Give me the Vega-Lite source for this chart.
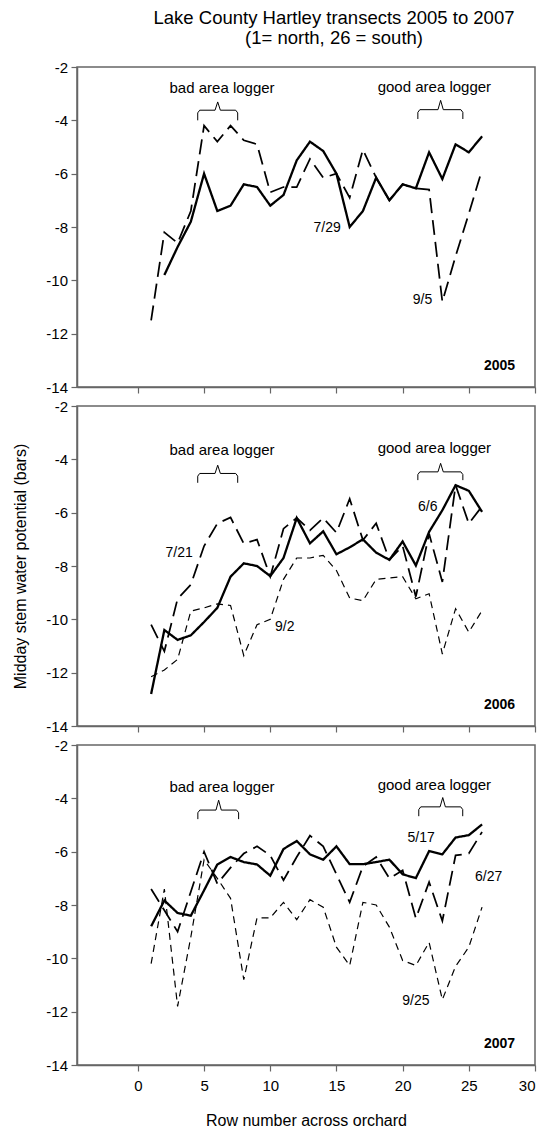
{
  "$schema": "https://vega.github.io/schema/vega-lite/v6.json",
  "padding": {"left": 12, "top": 8, "right": 3, "bottom": 2},
  "autosize": {"type": "pad"},
  "background": "white",
  "config": {
    "font": "Liberation Sans",
    "view": {"stroke": "#666666", "strokeWidth": 1.5},
    "axis": {"domainColor": "#666666", "domainWidth": 1.5, "tickColor": "#666666", "tickWidth": 1.2, "tickSize": 6, "labelFont": "Liberation Sans", "labelFontSize": 15, "labelColor": "#000000", "titleFont": "Liberation Sans", "titleFontSize": 16, "titleFontWeight": "normal", "titleColor": "#000000", "grid": false}
  },
  "title": {"text": ["Lake County Hartley transects 2005 to 2007", "(1= north, 26 = south)"], "fontSize": 18.5, "fontWeight": "normal", "font": "Liberation Sans", "color": "#000000", "lineHeight": 20, "anchor": "middle", "frame": "group", "offset": 12, "dx": 28},
  "datasets": {
    "lines": [
      {"year":2005,"series":"7/29","style":"solid","row":2,"psi":-9.8},
      {"year":2005,"series":"7/29","style":"solid","row":3,"psi":-8.75},
      {"year":2005,"series":"7/29","style":"solid","row":4,"psi":-7.8},
      {"year":2005,"series":"7/29","style":"solid","row":5,"psi":-6.0},
      {"year":2005,"series":"7/29","style":"solid","row":6,"psi":-7.4},
      {"year":2005,"series":"7/29","style":"solid","row":7,"psi":-7.2},
      {"year":2005,"series":"7/29","style":"solid","row":8,"psi":-6.4},
      {"year":2005,"series":"7/29","style":"solid","row":9,"psi":-6.5},
      {"year":2005,"series":"7/29","style":"solid","row":10,"psi":-7.2},
      {"year":2005,"series":"7/29","style":"solid","row":11,"psi":-6.8},
      {"year":2005,"series":"7/29","style":"solid","row":12,"psi":-5.5},
      {"year":2005,"series":"7/29","style":"solid","row":13,"psi":-4.8},
      {"year":2005,"series":"7/29","style":"solid","row":14,"psi":-5.15},
      {"year":2005,"series":"7/29","style":"solid","row":15,"psi":-6.0},
      {"year":2005,"series":"7/29","style":"solid","row":16,"psi":-8.0},
      {"year":2005,"series":"7/29","style":"solid","row":17,"psi":-7.4},
      {"year":2005,"series":"7/29","style":"solid","row":18,"psi":-6.15},
      {"year":2005,"series":"7/29","style":"solid","row":19,"psi":-7.0},
      {"year":2005,"series":"7/29","style":"solid","row":20,"psi":-6.4},
      {"year":2005,"series":"7/29","style":"solid","row":21,"psi":-6.55},
      {"year":2005,"series":"7/29","style":"solid","row":22,"psi":-5.2},
      {"year":2005,"series":"7/29","style":"solid","row":23,"psi":-6.2},
      {"year":2005,"series":"7/29","style":"solid","row":24,"psi":-4.9},
      {"year":2005,"series":"7/29","style":"solid","row":25,"psi":-5.2},
      {"year":2005,"series":"7/29","style":"solid","row":26,"psi":-4.6},
      {"year":2005,"series":"9/5","style":"long","row":1,"psi":-11.5},
      {"year":2005,"series":"9/5","style":"long","row":2,"psi":-8.2},
      {"year":2005,"series":"9/5","style":"long","row":3,"psi":-8.6},
      {"year":2005,"series":"9/5","style":"long","row":4,"psi":-7.4},
      {"year":2005,"series":"9/5","style":"long","row":5,"psi":-4.2},
      {"year":2005,"series":"9/5","style":"long","row":6,"psi":-4.8},
      {"year":2005,"series":"9/5","style":"long","row":7,"psi":-4.2},
      {"year":2005,"series":"9/5","style":"long","row":8,"psi":-4.75},
      {"year":2005,"series":"9/5","style":"long","row":9,"psi":-4.9},
      {"year":2005,"series":"9/5","style":"long","row":10,"psi":-6.7},
      {"year":2005,"series":"9/5","style":"long","row":11,"psi":-6.5},
      {"year":2005,"series":"9/5","style":"long","row":12,"psi":-6.5},
      {"year":2005,"series":"9/5","style":"long","row":13,"psi":-5.45},
      {"year":2005,"series":"9/5","style":"long","row":14,"psi":-6.15},
      {"year":2005,"series":"9/5","style":"long","row":15,"psi":-6.0},
      {"year":2005,"series":"9/5","style":"long","row":16,"psi":-6.9},
      {"year":2005,"series":"9/5","style":"long","row":17,"psi":-5.1},
      {"year":2005,"series":"9/5","style":"long","row":18,"psi":-6.15},
      {"year":2005,"series":"9/5","style":"long","row":19,"psi":-7.0},
      {"year":2005,"series":"9/5","style":"long","row":20,"psi":-6.4},
      {"year":2005,"series":"9/5","style":"long","row":21,"psi":-6.55},
      {"year":2005,"series":"9/5","style":"long","row":22,"psi":-6.6},
      {"year":2005,"series":"9/5","style":"long","row":23,"psi":-10.8},
      {"year":2005,"series":"9/5","style":"long","row":24,"psi":-9.1},
      {"year":2005,"series":"9/5","style":"long","row":25,"psi":-7.5},
      {"year":2005,"series":"9/5","style":"long","row":26,"psi":-5.85},

      {"year":2006,"series":"6/6","style":"solid","row":1,"psi":-12.8},
      {"year":2006,"series":"6/6","style":"solid","row":2,"psi":-10.4},
      {"year":2006,"series":"6/6","style":"solid","row":3,"psi":-10.77},
      {"year":2006,"series":"6/6","style":"solid","row":4,"psi":-10.6},
      {"year":2006,"series":"6/6","style":"solid","row":5,"psi":-10.1},
      {"year":2006,"series":"6/6","style":"solid","row":6,"psi":-9.57},
      {"year":2006,"series":"6/6","style":"solid","row":7,"psi":-8.4},
      {"year":2006,"series":"6/6","style":"solid","row":8,"psi":-7.9},
      {"year":2006,"series":"6/6","style":"solid","row":9,"psi":-8.0},
      {"year":2006,"series":"6/6","style":"solid","row":10,"psi":-8.38},
      {"year":2006,"series":"6/6","style":"solid","row":11,"psi":-7.7},
      {"year":2006,"series":"6/6","style":"solid","row":12,"psi":-6.2},
      {"year":2006,"series":"6/6","style":"solid","row":13,"psi":-7.15},
      {"year":2006,"series":"6/6","style":"solid","row":14,"psi":-6.7},
      {"year":2006,"series":"6/6","style":"solid","row":15,"psi":-7.56},
      {"year":2006,"series":"6/6","style":"solid","row":16,"psi":-7.3},
      {"year":2006,"series":"6/6","style":"solid","row":17,"psi":-7.0},
      {"year":2006,"series":"6/6","style":"solid","row":18,"psi":-7.5},
      {"year":2006,"series":"6/6","style":"solid","row":19,"psi":-7.77},
      {"year":2006,"series":"6/6","style":"solid","row":20,"psi":-7.08},
      {"year":2006,"series":"6/6","style":"solid","row":21,"psi":-7.98},
      {"year":2006,"series":"6/6","style":"solid","row":22,"psi":-6.72},
      {"year":2006,"series":"6/6","style":"solid","row":23,"psi":-5.91},
      {"year":2006,"series":"6/6","style":"solid","row":24,"psi":-4.97},
      {"year":2006,"series":"6/6","style":"solid","row":25,"psi":-5.18},
      {"year":2006,"series":"6/6","style":"solid","row":26,"psi":-5.97},
      {"year":2006,"series":"7/21","style":"long","row":1,"psi":-10.2},
      {"year":2006,"series":"7/21","style":"long","row":2,"psi":-11.2},
      {"year":2006,"series":"7/21","style":"long","row":3,"psi":-9.23},
      {"year":2006,"series":"7/21","style":"long","row":4,"psi":-8.7},
      {"year":2006,"series":"7/21","style":"long","row":5,"psi":-7.25},
      {"year":2006,"series":"7/21","style":"long","row":6,"psi":-6.41},
      {"year":2006,"series":"7/21","style":"long","row":7,"psi":-6.18},
      {"year":2006,"series":"7/21","style":"long","row":8,"psi":-7.16},
      {"year":2006,"series":"7/21","style":"long","row":9,"psi":-7.01},
      {"year":2006,"series":"7/21","style":"long","row":10,"psi":-8.4},
      {"year":2006,"series":"7/21","style":"long","row":11,"psi":-6.6},
      {"year":2006,"series":"7/21","style":"long","row":12,"psi":-6.2},
      {"year":2006,"series":"7/21","style":"long","row":13,"psi":-6.66},
      {"year":2006,"series":"7/21","style":"long","row":14,"psi":-6.2},
      {"year":2006,"series":"7/21","style":"long","row":15,"psi":-6.75},
      {"year":2006,"series":"7/21","style":"long","row":16,"psi":-5.48},
      {"year":2006,"series":"7/21","style":"long","row":17,"psi":-7.03},
      {"year":2006,"series":"7/21","style":"long","row":18,"psi":-6.4},
      {"year":2006,"series":"7/21","style":"long","row":19,"psi":-7.77},
      {"year":2006,"series":"7/21","style":"long","row":20,"psi":-7.25},
      {"year":2006,"series":"7/21","style":"long","row":21,"psi":-9.15},
      {"year":2006,"series":"7/21","style":"long","row":22,"psi":-6.79},
      {"year":2006,"series":"7/21","style":"long","row":23,"psi":-8.6},
      {"year":2006,"series":"7/21","style":"long","row":24,"psi":-4.97},
      {"year":2006,"series":"7/21","style":"long","row":25,"psi":-6.41},
      {"year":2006,"series":"7/21","style":"long","row":26,"psi":-5.76},
      {"year":2006,"series":"9/2","style":"short","row":1,"psi":-12.15},
      {"year":2006,"series":"9/2","style":"short","row":2,"psi":-11.9},
      {"year":2006,"series":"9/2","style":"short","row":3,"psi":-11.5},
      {"year":2006,"series":"9/2","style":"short","row":4,"psi":-9.69},
      {"year":2006,"series":"9/2","style":"short","row":5,"psi":-9.57},
      {"year":2006,"series":"9/2","style":"short","row":6,"psi":-9.42},
      {"year":2006,"series":"9/2","style":"short","row":7,"psi":-9.48},
      {"year":2006,"series":"9/2","style":"short","row":8,"psi":-11.36},
      {"year":2006,"series":"9/2","style":"short","row":9,"psi":-10.2},
      {"year":2006,"series":"9/2","style":"short","row":10,"psi":-10.0},
      {"year":2006,"series":"9/2","style":"short","row":11,"psi":-8.5},
      {"year":2006,"series":"9/2","style":"short","row":12,"psi":-7.7},
      {"year":2006,"series":"9/2","style":"short","row":13,"psi":-7.7},
      {"year":2006,"series":"9/2","style":"short","row":14,"psi":-7.6},
      {"year":2006,"series":"9/2","style":"short","row":15,"psi":-8.17},
      {"year":2006,"series":"9/2","style":"short","row":16,"psi":-9.2},
      {"year":2006,"series":"9/2","style":"short","row":17,"psi":-9.3},
      {"year":2006,"series":"9/2","style":"short","row":18,"psi":-8.5},
      {"year":2006,"series":"9/2","style":"short","row":19,"psi":-8.45},
      {"year":2006,"series":"9/2","style":"short","row":20,"psi":-8.4},
      {"year":2006,"series":"9/2","style":"short","row":21,"psi":-9.23},
      {"year":2006,"series":"9/2","style":"short","row":22,"psi":-9.04},
      {"year":2006,"series":"9/2","style":"short","row":23,"psi":-11.3},
      {"year":2006,"series":"9/2","style":"short","row":24,"psi":-9.6},
      {"year":2006,"series":"9/2","style":"short","row":25,"psi":-10.48},
      {"year":2006,"series":"9/2","style":"short","row":26,"psi":-9.67},

      {"year":2007,"series":"5/17","style":"solid","row":1,"psi":-8.8},
      {"year":2007,"series":"5/17","style":"solid","row":2,"psi":-7.83},
      {"year":2007,"series":"5/17","style":"solid","row":3,"psi":-8.3},
      {"year":2007,"series":"5/17","style":"solid","row":4,"psi":-8.4},
      {"year":2007,"series":"5/17","style":"solid","row":5,"psi":-7.45},
      {"year":2007,"series":"5/17","style":"solid","row":6,"psi":-6.48},
      {"year":2007,"series":"5/17","style":"solid","row":7,"psi":-6.2},
      {"year":2007,"series":"5/17","style":"solid","row":8,"psi":-6.39},
      {"year":2007,"series":"5/17","style":"solid","row":9,"psi":-6.48},
      {"year":2007,"series":"5/17","style":"solid","row":10,"psi":-6.9},
      {"year":2007,"series":"5/17","style":"solid","row":11,"psi":-5.9},
      {"year":2007,"series":"5/17","style":"solid","row":12,"psi":-5.6},
      {"year":2007,"series":"5/17","style":"solid","row":13,"psi":-6.1},
      {"year":2007,"series":"5/17","style":"solid","row":14,"psi":-6.3},
      {"year":2007,"series":"5/17","style":"solid","row":15,"psi":-5.8},
      {"year":2007,"series":"5/17","style":"solid","row":16,"psi":-6.47},
      {"year":2007,"series":"5/17","style":"solid","row":17,"psi":-6.47},
      {"year":2007,"series":"5/17","style":"solid","row":18,"psi":-6.39},
      {"year":2007,"series":"5/17","style":"solid","row":19,"psi":-6.3},
      {"year":2007,"series":"5/17","style":"solid","row":20,"psi":-6.85},
      {"year":2007,"series":"5/17","style":"solid","row":21,"psi":-6.99},
      {"year":2007,"series":"5/17","style":"solid","row":22,"psi":-5.98},
      {"year":2007,"series":"5/17","style":"solid","row":23,"psi":-6.1},
      {"year":2007,"series":"5/17","style":"solid","row":24,"psi":-5.47},
      {"year":2007,"series":"5/17","style":"solid","row":25,"psi":-5.38},
      {"year":2007,"series":"5/17","style":"solid","row":26,"psi":-4.98},
      {"year":2007,"series":"6/27","style":"long","row":1,"psi":-7.4},
      {"year":2007,"series":"6/27","style":"long","row":2,"psi":-8.2},
      {"year":2007,"series":"6/27","style":"long","row":3,"psi":-9.0},
      {"year":2007,"series":"6/27","style":"long","row":4,"psi":-7.5},
      {"year":2007,"series":"6/27","style":"long","row":5,"psi":-6.0},
      {"year":2007,"series":"6/27","style":"long","row":6,"psi":-7.2},
      {"year":2007,"series":"6/27","style":"long","row":7,"psi":-6.6},
      {"year":2007,"series":"6/27","style":"long","row":8,"psi":-6.07},
      {"year":2007,"series":"6/27","style":"long","row":9,"psi":-5.8},
      {"year":2007,"series":"6/27","style":"long","row":10,"psi":-6.14},
      {"year":2007,"series":"6/27","style":"long","row":11,"psi":-7.07},
      {"year":2007,"series":"6/27","style":"long","row":12,"psi":-6.2},
      {"year":2007,"series":"6/27","style":"long","row":13,"psi":-5.4},
      {"year":2007,"series":"6/27","style":"long","row":14,"psi":-5.8},
      {"year":2007,"series":"6/27","style":"long","row":15,"psi":-6.85},
      {"year":2007,"series":"6/27","style":"long","row":16,"psi":-7.9},
      {"year":2007,"series":"6/27","style":"long","row":17,"psi":-6.55},
      {"year":2007,"series":"6/27","style":"long","row":18,"psi":-6.2},
      {"year":2007,"series":"6/27","style":"long","row":19,"psi":-7.0},
      {"year":2007,"series":"6/27","style":"long","row":20,"psi":-6.7},
      {"year":2007,"series":"6/27","style":"long","row":21,"psi":-8.5},
      {"year":2007,"series":"6/27","style":"long","row":22,"psi":-7.14},
      {"year":2007,"series":"6/27","style":"long","row":23,"psi":-8.6},
      {"year":2007,"series":"6/27","style":"long","row":24,"psi":-6.14},
      {"year":2007,"series":"6/27","style":"long","row":25,"psi":-6.07},
      {"year":2007,"series":"6/27","style":"long","row":26,"psi":-5.26},
      {"year":2007,"series":"9/25","style":"short","row":1,"psi":-10.2},
      {"year":2007,"series":"9/25","style":"short","row":2,"psi":-7.4},
      {"year":2007,"series":"9/25","style":"short","row":3,"psi":-11.8},
      {"year":2007,"series":"9/25","style":"short","row":4,"psi":-9.2},
      {"year":2007,"series":"9/25","style":"short","row":5,"psi":-6.3},
      {"year":2007,"series":"9/25","style":"short","row":6,"psi":-7.0},
      {"year":2007,"series":"9/25","style":"short","row":7,"psi":-7.75},
      {"year":2007,"series":"9/25","style":"short","row":8,"psi":-10.8},
      {"year":2007,"series":"9/25","style":"short","row":9,"psi":-8.48},
      {"year":2007,"series":"9/25","style":"short","row":10,"psi":-8.48},
      {"year":2007,"series":"9/25","style":"short","row":11,"psi":-7.9},
      {"year":2007,"series":"9/25","style":"short","row":12,"psi":-8.55},
      {"year":2007,"series":"9/25","style":"short","row":13,"psi":-7.8},
      {"year":2007,"series":"9/25","style":"short","row":14,"psi":-8.08},
      {"year":2007,"series":"9/25","style":"short","row":15,"psi":-9.58},
      {"year":2007,"series":"9/25","style":"short","row":16,"psi":-10.27},
      {"year":2007,"series":"9/25","style":"short","row":17,"psi":-7.9},
      {"year":2007,"series":"9/25","style":"short","row":18,"psi":-8.0},
      {"year":2007,"series":"9/25","style":"short","row":19,"psi":-8.83},
      {"year":2007,"series":"9/25","style":"short","row":20,"psi":-10.08},
      {"year":2007,"series":"9/25","style":"short","row":21,"psi":-10.27},
      {"year":2007,"series":"9/25","style":"short","row":22,"psi":-9.4},
      {"year":2007,"series":"9/25","style":"short","row":23,"psi":-11.55},
      {"year":2007,"series":"9/25","style":"short","row":24,"psi":-10.3},
      {"year":2007,"series":"9/25","style":"short","row":25,"psi":-9.58},
      {"year":2007,"series":"9/25","style":"short","row":26,"psi":-8.08}
    ],
    "notes": [
      {"year":2005,"kind":"date","text":"7/29","x":14.3,"y":-8.05},
      {"year":2005,"kind":"date","text":"9/5","x":21.5,"y":-10.75},
      {"year":2006,"kind":"date","text":"7/21","x":3.12,"y":-7.51},
      {"year":2006,"kind":"date","text":"9/2","x":11.1,"y":-10.3},
      {"year":2006,"kind":"date","text":"6/6","x":21.9,"y":-5.79},
      {"year":2007,"kind":"date","text":"5/17","x":21.4,"y":-5.47},
      {"year":2007,"kind":"date","text":"6/27","x":26.5,"y":-6.95},
      {"year":2007,"kind":"date","text":"9/25","x":21.0,"y":-11.59},
      {"year":2005,"kind":"logger","text":"bad area logger","x":6.36,"y":-2.77},
      {"year":2005,"kind":"logger","text":"good area logger","x":22.4,"y":-2.75},
      {"year":2006,"kind":"logger","text":"bad area logger","x":6.36,"y":-3.65},
      {"year":2006,"kind":"logger","text":"good area logger","x":22.4,"y":-3.58},
      {"year":2007,"kind":"logger","text":"bad area logger","x":6.35,"y":-3.59},
      {"year":2007,"kind":"logger","text":"good area logger","x":22.4,"y":-3.5},
      {"year":2005,"kind":"year","text":"2005","x":28.5,"y":-13.2},
      {"year":2006,"kind":"year","text":"2006","x":28.5,"y":-13.2},
      {"year":2007,"kind":"year","text":"2007","x":28.5,"y":-13.2}
    ],
    "braces": [
      {"year":2005,"id":"b","i":1,"x":4.52,"y":-4.0},{"year":2005,"id":"b","i":2,"x":4.52,"y":-3.72},{"year":2005,"id":"b","i":3,"x":4.67,"y":-3.62},{"year":2005,"id":"b","i":4,"x":5.83,"y":-3.62},{"year":2005,"id":"b","i":5,"x":6.03,"y":-3.31},{"year":2005,"id":"b","i":6,"x":6.23,"y":-3.62},{"year":2005,"id":"b","i":7,"x":7.39,"y":-3.62},{"year":2005,"id":"b","i":8,"x":7.54,"y":-3.72},{"year":2005,"id":"b","i":9,"x":7.54,"y":-4.0},
      {"year":2005,"id":"g","i":1,"x":21.15,"y":-3.95},{"year":2005,"id":"g","i":2,"x":21.15,"y":-3.7},{"year":2005,"id":"g","i":3,"x":21.3,"y":-3.6},{"year":2005,"id":"g","i":4,"x":22.67,"y":-3.6},{"year":2005,"id":"g","i":5,"x":22.87,"y":-3.25},{"year":2005,"id":"g","i":6,"x":23.07,"y":-3.6},{"year":2005,"id":"g","i":7,"x":24.4,"y":-3.6},{"year":2005,"id":"g","i":8,"x":24.55,"y":-3.7},{"year":2005,"id":"g","i":9,"x":24.55,"y":-3.95},
      {"year":2006,"id":"b","i":1,"x":4.52,"y":-4.88},{"year":2006,"id":"b","i":2,"x":4.52,"y":-4.63},{"year":2006,"id":"b","i":3,"x":4.67,"y":-4.53},{"year":2006,"id":"b","i":4,"x":5.83,"y":-4.53},{"year":2006,"id":"b","i":5,"x":6.03,"y":-4.22},{"year":2006,"id":"b","i":6,"x":6.23,"y":-4.53},{"year":2006,"id":"b","i":7,"x":7.39,"y":-4.53},{"year":2006,"id":"b","i":8,"x":7.54,"y":-4.63},{"year":2006,"id":"b","i":9,"x":7.54,"y":-4.88},
      {"year":2006,"id":"g","i":1,"x":21.15,"y":-4.78},{"year":2006,"id":"g","i":2,"x":21.15,"y":-4.57},{"year":2006,"id":"g","i":3,"x":21.3,"y":-4.47},{"year":2006,"id":"g","i":4,"x":22.67,"y":-4.47},{"year":2006,"id":"g","i":5,"x":22.87,"y":-4.15},{"year":2006,"id":"g","i":6,"x":23.07,"y":-4.47},{"year":2006,"id":"g","i":7,"x":24.4,"y":-4.47},{"year":2006,"id":"g","i":8,"x":24.55,"y":-4.57},{"year":2006,"id":"g","i":9,"x":24.55,"y":-4.78},
      {"year":2007,"id":"b","i":1,"x":4.53,"y":-4.78},{"year":2007,"id":"b","i":2,"x":4.53,"y":-4.54},{"year":2007,"id":"b","i":3,"x":4.68,"y":-4.44},{"year":2007,"id":"b","i":4,"x":5.9,"y":-4.44},{"year":2007,"id":"b","i":5,"x":6.1,"y":-4.07},{"year":2007,"id":"b","i":6,"x":6.3,"y":-4.44},{"year":2007,"id":"b","i":7,"x":7.46,"y":-4.44},{"year":2007,"id":"b","i":8,"x":7.61,"y":-4.54},{"year":2007,"id":"b","i":9,"x":7.61,"y":-4.78},
      {"year":2007,"id":"g","i":1,"x":21.22,"y":-4.67},{"year":2007,"id":"g","i":2,"x":21.22,"y":-4.42},{"year":2007,"id":"g","i":3,"x":21.37,"y":-4.32},{"year":2007,"id":"g","i":4,"x":22.83,"y":-4.32},{"year":2007,"id":"g","i":5,"x":23.03,"y":-3.97},{"year":2007,"id":"g","i":6,"x":23.23,"y":-4.32},{"year":2007,"id":"g","i":7,"x":24.39,"y":-4.32},{"year":2007,"id":"g","i":8,"x":24.54,"y":-4.42},{"year":2007,"id":"g","i":9,"x":24.54,"y":-4.67}
    ]
  },
  "spacing": 19,
  "bounds": "flush",
  "vconcat": [
    {
      "width": 458, "height": 320,
      "layer": [
        {"data": {"name": "lines"}, "transform": [{"filter": "datum.year == 2005"}],
         "mark": {"type": "line", "color": "#000000", "strokeCap": "butt"},
         "encoding": {
           "x": {"field": "row", "type": "quantitative", "scale": {"domain": [-4.6, 30], "nice": false, "zero": false}, "axis": {"values": [0,5,10,15,20,25,30], "labels": false, "title": null}},
           "y": {"field": "psi", "type": "quantitative", "scale": {"domain": [-14, -2], "nice": false, "zero": false}, "axis": {"values": [-14,-12,-10,-8,-6,-4,-2], "labelExpr": "'' + datum.value", "labelPadding": 3.5, "title": null}},
           "detail": {"field": "series"},
           "order": {"field": "row"},
           "strokeDash": {"field": "style", "type": "nominal", "scale": {"domain": ["solid","long","short"], "range": [[1,0],[15,7],[7,5]]}, "legend": null},
           "strokeWidth": {"field": "style", "type": "ordinal", "scale": {"domain": ["solid","long","short"], "range": [2.3,1.2,1.2]}, "legend": null}
         }},
        {"data": {"name": "braces"}, "transform": [{"filter": "datum.year == 2005"}],
         "mark": {"type": "line", "color": "#000000", "strokeWidth": 1},
         "encoding": {"x": {"field": "x", "type": "quantitative"}, "y": {"field": "y", "type": "quantitative"}, "detail": {"field": "id"}, "order": {"field": "i"}}},
        {"data": {"name": "notes"}, "transform": [{"filter": "datum.year == 2005 && datum.kind == 'date'"}],
         "mark": {"type": "text", "fontSize": 14, "align": "center", "baseline": "middle", "color": "#000000"},
         "encoding": {"x": {"field": "x", "type": "quantitative"}, "y": {"field": "y", "type": "quantitative"}, "text": {"field": "text"}}},
        {"data": {"name": "notes"}, "transform": [{"filter": "datum.year == 2005 && datum.kind == 'logger'"}],
         "mark": {"type": "text", "fontSize": 15, "align": "center", "baseline": "middle", "color": "#000000"},
         "encoding": {"x": {"field": "x", "type": "quantitative"}, "y": {"field": "y", "type": "quantitative"}, "text": {"field": "text"}}},
        {"data": {"name": "notes"}, "transform": [{"filter": "datum.year == 2005 && datum.kind == 'year'"}],
         "mark": {"type": "text", "fontSize": 14, "fontWeight": "bold", "align": "right", "baseline": "middle", "color": "#000000"},
         "encoding": {"x": {"field": "x", "type": "quantitative"}, "y": {"field": "y", "type": "quantitative"}, "text": {"field": "text"}}}
      ]
    },
    {
      "width": 458, "height": 320,
      "layer": [
        {"data": {"name": "lines"}, "transform": [{"filter": "datum.year == 2006"}],
         "mark": {"type": "line", "color": "#000000", "strokeCap": "butt"},
         "encoding": {
           "x": {"field": "row", "type": "quantitative", "scale": {"domain": [-4.6, 30], "nice": false, "zero": false}, "axis": {"values": [0,5,10,15,20,25,30], "labels": false, "title": null}},
           "y": {"field": "psi", "type": "quantitative", "scale": {"domain": [-14, -2], "nice": false, "zero": false}, "axis": {"values": [-14,-12,-10,-8,-6,-4,-2], "labelExpr": "'' + datum.value", "labelPadding": 3.5, "title": "Midday stem water potential (bars)", "titlePadding": 17}},
           "detail": {"field": "series"},
           "order": {"field": "row"},
           "strokeDash": {"field": "style", "type": "nominal", "scale": {"domain": ["solid","long","short"], "range": [[1,0],[13,7],[7,5]]}, "legend": null},
           "strokeWidth": {"field": "style", "type": "ordinal", "scale": {"domain": ["solid","long","short"], "range": [2.3,1.2,1.2]}, "legend": null}
         }},
        {"data": {"name": "braces"}, "transform": [{"filter": "datum.year == 2006"}],
         "mark": {"type": "line", "color": "#000000", "strokeWidth": 1},
         "encoding": {"x": {"field": "x", "type": "quantitative"}, "y": {"field": "y", "type": "quantitative"}, "detail": {"field": "id"}, "order": {"field": "i"}}},
        {"data": {"name": "notes"}, "transform": [{"filter": "datum.year == 2006 && datum.kind == 'date'"}],
         "mark": {"type": "text", "fontSize": 14, "align": "center", "baseline": "middle", "color": "#000000"},
         "encoding": {"x": {"field": "x", "type": "quantitative"}, "y": {"field": "y", "type": "quantitative"}, "text": {"field": "text"}}},
        {"data": {"name": "notes"}, "transform": [{"filter": "datum.year == 2006 && datum.kind == 'logger'"}],
         "mark": {"type": "text", "fontSize": 15, "align": "center", "baseline": "middle", "color": "#000000"},
         "encoding": {"x": {"field": "x", "type": "quantitative"}, "y": {"field": "y", "type": "quantitative"}, "text": {"field": "text"}}},
        {"data": {"name": "notes"}, "transform": [{"filter": "datum.year == 2006 && datum.kind == 'year'"}],
         "mark": {"type": "text", "fontSize": 14, "fontWeight": "bold", "align": "right", "baseline": "middle", "color": "#000000"},
         "encoding": {"x": {"field": "x", "type": "quantitative"}, "y": {"field": "y", "type": "quantitative"}, "text": {"field": "text"}}}
      ]
    },
    {
      "width": 458, "height": 320,
      "layer": [
        {"data": {"name": "lines"}, "transform": [{"filter": "datum.year == 2007"}],
         "mark": {"type": "line", "color": "#000000", "strokeCap": "butt"},
         "encoding": {
           "x": {"field": "row", "type": "quantitative", "scale": {"domain": [-4.6, 30], "nice": false, "zero": false}, "axis": {"values": [0,5,10,15,20,25,30], "labelPadding": 7, "title": "Row number across orchard", "titlePadding": 19}},
           "y": {"field": "psi", "type": "quantitative", "scale": {"domain": [-14, -2], "nice": false, "zero": false}, "axis": {"values": [-14,-12,-10,-8,-6,-4,-2], "labelExpr": "'' + datum.value", "labelPadding": 3.5, "title": null}},
           "detail": {"field": "series"},
           "order": {"field": "row"},
           "strokeDash": {"field": "style", "type": "nominal", "scale": {"domain": ["solid","long","short"], "range": [[1,0],[13,7],[7,5]]}, "legend": null},
           "strokeWidth": {"field": "style", "type": "ordinal", "scale": {"domain": ["solid","long","short"], "range": [2.3,1.2,1.2]}, "legend": null}
         }},
        {"data": {"name": "braces"}, "transform": [{"filter": "datum.year == 2007"}],
         "mark": {"type": "line", "color": "#000000", "strokeWidth": 1},
         "encoding": {"x": {"field": "x", "type": "quantitative"}, "y": {"field": "y", "type": "quantitative"}, "detail": {"field": "id"}, "order": {"field": "i"}}},
        {"data": {"name": "notes"}, "transform": [{"filter": "datum.year == 2007 && datum.kind == 'date'"}],
         "mark": {"type": "text", "fontSize": 14, "align": "center", "baseline": "middle", "color": "#000000"},
         "encoding": {"x": {"field": "x", "type": "quantitative"}, "y": {"field": "y", "type": "quantitative"}, "text": {"field": "text"}}},
        {"data": {"name": "notes"}, "transform": [{"filter": "datum.year == 2007 && datum.kind == 'logger'"}],
         "mark": {"type": "text", "fontSize": 15, "align": "center", "baseline": "middle", "color": "#000000"},
         "encoding": {"x": {"field": "x", "type": "quantitative"}, "y": {"field": "y", "type": "quantitative"}, "text": {"field": "text"}}},
        {"data": {"name": "notes"}, "transform": [{"filter": "datum.year == 2007 && datum.kind == 'year'"}],
         "mark": {"type": "text", "fontSize": 14, "fontWeight": "bold", "align": "right", "baseline": "middle", "color": "#000000"},
         "encoding": {"x": {"field": "x", "type": "quantitative"}, "y": {"field": "y", "type": "quantitative"}, "text": {"field": "text"}}}
      ]
    }
  ]
}
